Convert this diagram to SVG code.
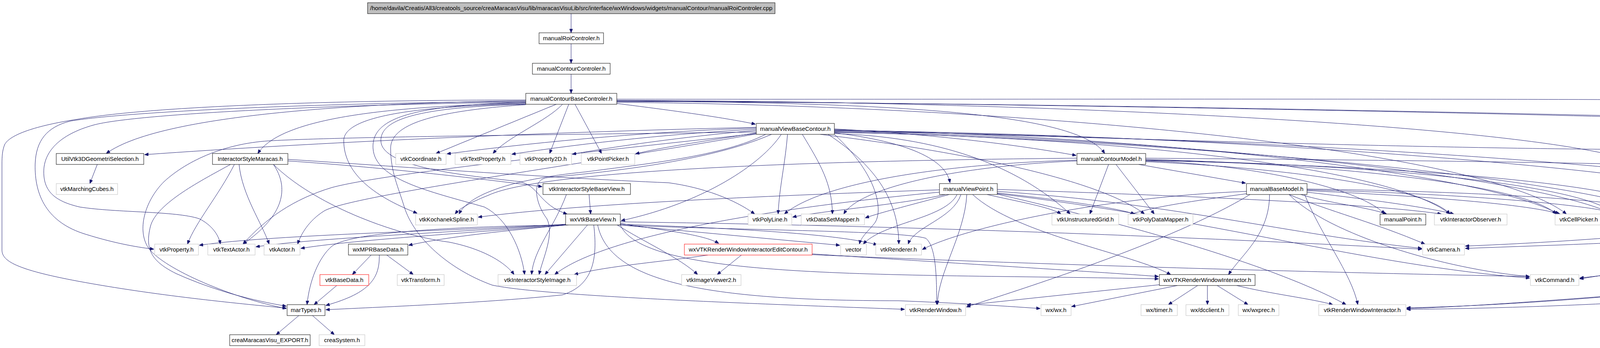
<svg xmlns="http://www.w3.org/2000/svg" width="4877" height="891" viewBox="0 0 4877 891">
<defs>
<style>
#edges path{fill:none;stroke:#191970;stroke-width:1;marker-end:url(#ah)}
.nd rect{fill:#ffffff;stroke:#000000;stroke-width:1}
.gy rect{stroke:#bfbfbf}
.rd rect{stroke:#ff0000}
.top rect{fill:#bfbfbf}
text{font-family:"Liberation Sans",Arial,sans-serif;font-size:15px;text-anchor:middle;fill:#000000}
</style>
<marker id="ah" viewBox="0 0 10 8" refX="10" refY="4" markerWidth="10" markerHeight="8" markerUnits="userSpaceOnUse" orient="auto"><path d="M0,0L10,4L0,8z" fill="#191970" stroke="#191970"/></marker>
</defs>
<rect width="4877" height="891" fill="#ffffff"/>
<g id="edges">
<path d="M1462,35 V84"/>
<path d="M1462,112 V162"/>
<path d="M1462,190 V239"/>
<path d="M1424,267 L1116,393"/>
<path d="M1440,267 C1400,310 1300,350 1262,393"/>
<path d="M1456,267 L1407,393"/>
<path d="M1472,267 L1540,393"/>
<path d="M1579,265 C1700,280 1850,300 1934,318"/>
<path d="M1346,258 C1000,262 420,285 272,393"/>
<path d="M1346,264 C1000,272 720,300 660,393"/>
<path d="M1579,259 C2300,262 2760,290 2828,393"/>
<path d="M1346,256 C900,256 400,270 200,305 C90,322 25,345 12,370 C6,385 5,400 5,420 L5,640 C5,668 40,690 200,720 C400,757 600,776 733,789"/>
<path d="M1346,260 C900,262 350,282 180,310 C120,325 92,360 90,420 C88,500 120,570 220,600 C300,625 360,634 394,638"/>
<path d="M1346,262 C900,266 350,290 240,320 C150,345 112,390 112,440 C112,490 140,515 204,530 C300,545 450,540 510,560 C540,575 560,600 564,625"/>
<path d="M1346,266 C1050,272 880,300 880,360 C880,440 950,500 1068,546"/>
<path d="M1346,267 C1050,275 975,310 975,360 C975,430 1200,450 1330,465 C1380,475 1380,525 1452,548"/>
<path d="M1346,262 C1060,270 950,300 955,380 C960,460 1100,490 1240,530 C1300,560 1335,640 1343,703"/>
<path d="M1346,268 C1100,285 1000,320 1000,380 C1000,440 1020,480 1035,530 C1060,610 1150,690 1260,730 C1400,760 2000,780 2316,792"/>
<path d="M1579,262 C2600,270 3800,380 4010,548"/>
<path d="M1579,257 C2800,260 4000,330 4200,420 C4280,460 4300,510 4300,548"/>
<path d="M1579,254 C2600,255 4600,250 4700,262 C4840,275 4869,320 4869,400 L4869,693 C4869,715 4840,722 4788,722 C4700,722 4660,725 4600,735 C4400,770 3900,790 3601,792"/>
<path d="M1579,260 C2600,262 3900,290 4500,305 C4650,310 4720,262 4780,265 C4810,270 4819,300 4819,330 L4819,600 C4819,630 4790,645 4740,645 C4650,645 4600,648 4557,648 C4400,655 4200,690 4044,714"/>
<path d="M1579,258 C2700,265 4500,300 4650,320 C4720,330 4738,400 4738,540 C4738,565 4700,572 4610,572 C4450,570 4250,610 3751,630"/>
<path d="M1936,326 C1400,338 800,365 370,396"/>
<path d="M1936,328 C1700,335 1400,360 1144,394"/>
<path d="M1936,331 C1750,340 1500,365 1310,395"/>
<path d="M1936,334 C1800,345 1600,370 1465,395"/>
<path d="M1936,340 C1850,355 1700,375 1627,394"/>
<path d="M1936,338 C1400,345 900,350 700,360 C580,365 480,410 420,465 C370,515 350,590 380,635 C420,690 600,765 733,790"/>
<path d="M1936,342 C1600,380 1000,440 850,480 C750,510 680,560 622,625"/>
<path d="M1936,343 C1500,420 900,500 830,540 C790,565 770,600 762,625"/>
<path d="M1960,344 C1850,400 1650,420 1500,440 C1300,460 1200,500 1175,548"/>
<path d="M2000,344 C1950,420 1800,520 1590,565"/>
<path d="M1975,344 C1800,420 1500,445 1400,455 C1360,460 1370,520 1400,560 C1420,600 1390,660 1380,703"/>
<path d="M2016,344 C2010,420 1995,480 1992,548"/>
<path d="M2054,344 C2100,420 2130,470 2131,548"/>
<path d="M2136,340 C2300,360 2420,400 2432,468"/>
<path d="M2136,330 C2400,345 2600,370 2755,398"/>
<path d="M2136,342 C2400,350 2600,420 2740,548"/>
<path d="M2100,344 C2400,380 2800,450 2930,548"/>
<path d="M2136,344 C2250,450 2260,540 2240,570 C2225,590 2205,605 2200,625"/>
<path d="M2120,344 C2250,430 2300,520 2301,625"/>
<path d="M2136,333 C2900,345 3800,440 3990,548"/>
<path d="M2136,336 C2900,350 3900,440 4130,548"/>
<path d="M2136,338 C2900,355 4000,445 4262,548"/>
<path d="M2136,339 C2800,350 3550,420 3712,548"/>
<path d="M2136,334 C3100,345 4000,420 4300,470 C4400,490 4406,530 4406,580 C4400,610 4300,615 4000,627 L3751,636"/>
<path d="M2136,336 C3200,350 4200,420 4450,470 C4510,485 4517,520 4517,560 C4517,620 4436,660 4300,680 C4200,695 4100,705 4044,712"/>
<path d="M2136,332 C3000,360 4300,400 4550,375 C4650,365 4718,380 4718,440 L4718,650 C4718,690 4680,710 4600,717 C4300,745 3800,785 3601,790"/>
<path d="M2915,421 L3189,469"/>
<path d="M2838,421 L2790,548"/>
<path d="M2857,421 L2955,548"/>
<path d="M2757,410 C2400,420 2100,470 2008,548"/>
<path d="M2757,412 C2450,425 2200,480 2160,548"/>
<path d="M2757,405 C2200,410 1400,430 1250,500 C1200,520 1175,535 1165,548"/>
<path d="M2933,412 C3200,420 3480,480 3545,548"/>
<path d="M2933,414 C3300,430 3650,480 3712,548"/>
<path d="M2933,408 C3400,420 3900,470 3984,548"/>
<path d="M2933,410 C3500,420 4050,470 4135,548"/>
<path d="M2933,411 C3600,425 4200,470 4275,548"/>
<path d="M2933,405 C3600,410 4500,420 4620,440 C4660,450 4668,500 4668,560 L4668,620 C4668,680 4600,700 4500,717 C4200,760 3800,785 3601,788"/>
<path d="M2527,498 C2600,515 2690,530 2716,548"/>
<path d="M2553,494 C2700,510 2850,530 2905,548"/>
<path d="M2420,498 C2300,525 2100,540 2029,556"/>
<path d="M2430,498 C2350,520 2250,545 2215,558"/>
<path d="M2450,498 C2420,560 2260,570 2210,625"/>
<path d="M2460,498 C2440,560 2340,580 2325,625"/>
<path d="M2475,498 C2470,600 2400,700 2400,780"/>
<path d="M2490,498 C2600,600 2900,650 2997,703"/>
<path d="M2405,492 C2000,530 1550,600 1420,703"/>
<path d="M2553,490 C3000,520 3300,600 3640,636"/>
<path d="M2553,496 C3100,560 3500,680 3916,712"/>
<path d="M2553,497 C3000,600 3300,700 3446,780"/>
<path d="M2405,486 C2000,500 1500,520 1224,556"/>
<path d="M2553,485 C3000,500 3500,520 3690,548"/>
<path d="M3191,496 C3050,515 2950,530 2890,550"/>
<path d="M3330,498 C3400,520 3500,530 3550,548"/>
<path d="M3346,492 C3500,510 3650,530 3722,548"/>
<path d="M3346,488 C3600,500 3900,520 3994,548"/>
<path d="M3346,486 C3700,495 4050,520 4145,548"/>
<path d="M3346,484 C3800,490 4200,515 4285,548"/>
<path d="M3300,498 C3400,540 3520,570 3648,625"/>
<path d="M3300,498 C3400,600 3700,690 3916,708"/>
<path d="M3340,498 C3380,600 3460,700 3476,780"/>
<path d="M3250,498 C3250,600 3180,650 3145,703"/>
<path d="M3200,498 C3000,620 2600,745 2474,786"/>
<path d="M3191,490 C2800,505 2450,590 2361,639"/>
<path d="M1448,574 C1200,590 700,600 510,628"/>
<path d="M1448,575 C1150,595 800,610 655,632"/>
<path d="M1448,576 C1150,600 900,615 770,636"/>
<path d="M1452,576 C1300,590 1150,605 1046,628"/>
<path d="M1504,576 L1395,703"/>
<path d="M1455,576 C1150,580 900,595 850,630 C815,660 792,720 786,780"/>
<path d="M1520,576 C1530,660 1520,730 1440,755 C1250,775 1000,785 834,793"/>
<path d="M1588,572 C1700,590 1800,600 1840,623"/>
<path d="M1580,576 C1650,620 1740,660 1786,703"/>
<path d="M1588,576 L2150,628"/>
<path d="M1588,574 C1900,585 2150,600 2246,627"/>
<path d="M1588,576 C1650,720 2300,700 2966,714"/>
<path d="M1580,576 C1900,590 2300,590 2370,610 C2395,630 2398,700 2398,780"/>
<path d="M1530,576 C1560,720 1800,770 2300,770 C2450,776 2550,782 2663,790"/>
<path d="M1588,568 C2500,580 3300,620 3640,638"/>
<path d="M1508,498 L1512,548"/>
<path d="M1450,498 C1420,580 1365,640 1361,703"/>
<path d="M737,412 C1000,430 1250,460 1388,478"/>
<path d="M600,421 C560,500 500,570 480,625"/>
<path d="M612,421 C620,500 670,570 689,625"/>
<path d="M590,421 C520,460 400,520 385,580 C370,640 390,670 450,700 C550,745 650,770 733,784"/>
<path d="M700,421 C800,520 1000,600 1150,620 C1250,640 1300,680 1316,703"/>
<path d="M737,408 C1000,425 1400,455 1712,468 C1800,480 1880,510 1932,548"/>
<path d="M700,421 C740,480 730,550 622,625"/>
<path d="M950,653 L902,703"/>
<path d="M990,653 L1058,703"/>
<path d="M971,653 C972,710 950,750 834,782"/>
<path d="M862,731 L804,780"/>
<path d="M765,808 L707,857"/>
<path d="M800,808 L856,857"/>
<path d="M249,421 L230,470"/>
<path d="M1898,653 L1836,703"/>
<path d="M1812,653 C1700,670 1560,680 1470,703"/>
<path d="M2079,650 C2300,665 2800,695 2966,708"/>
<path d="M2079,652 C2700,680 3500,700 3916,708"/>
<path d="M2968,729 L2475,781"/>
<path d="M3014,731 L2743,785"/>
<path d="M3066,731 L2991,780"/>
<path d="M3091,731 L3091,780"/>
<path d="M3116,731 L3195,780"/>
<path d="M3166,731 C3250,752 3360,765 3412,780"/>
</g>
<g id="n0" class="nd top"><rect x="941" y="7" width="1043" height="28"/><text x="1462.5" y="26">/home/davila/Creatis/All3/creatools_source/creaMaracasVisu/lib/maracasVisuLib/src/interface/wxWindows/widgets/manualContour/manualRoiControler.cpp</text></g>
<g id="n1" class="nd"><rect x="1380" y="84" width="165" height="28"/><text x="1462.5" y="103">manualRoiControler.h</text></g>
<g id="n2" class="nd"><rect x="1363" y="162" width="199" height="28"/><text x="1462.5" y="181">manualContourControler.h</text></g>
<g id="n3" class="nd"><rect x="1346" y="239" width="233" height="28"/><text x="1462.5" y="258">manualContourBaseControler.h</text></g>
<g id="n4" class="nd"><rect x="1936" y="316" width="200" height="28"/><text x="2036" y="335">manualViewBaseContour.h</text></g>
<g id="n5" class="nd"><rect x="144" y="393" width="224" height="28"/><text x="256" y="412">UtilVtk3DGeometriSelection.h</text></g>
<g id="n6" class="nd"><rect x="544" y="393" width="193" height="28"/><text x="640.5" y="412">InteractorStyleMaracas.h</text></g>
<g id="n7" class="nd gy"><rect x="1013" y="393" width="129" height="28"/><text x="1077.5" y="412">vtkCoordinate.h</text></g>
<g id="n8" class="nd gy"><rect x="1165" y="393" width="143" height="28"/><text x="1236.5" y="412">vtkTextProperty.h</text></g>
<g id="n9" class="nd gy"><rect x="1331" y="393" width="132" height="28"/><text x="1397" y="412">vtkProperty2D.h</text></g>
<g id="n10" class="nd gy"><rect x="1488" y="393" width="137" height="28"/><text x="1556.5" y="412">vtkPointPicker.h</text></g>
<g id="n11" class="nd"><rect x="2757" y="393" width="176" height="28"/><text x="2845" y="412">manualContourModel.h</text></g>
<g id="n12" class="nd gy"><rect x="144" y="470" width="157" height="28"/><text x="222.5" y="489">vtkMarchingCubes.h</text></g>
<g id="n13" class="nd"><rect x="1390" y="470" width="224" height="28"/><text x="1502" y="489">vtkInteractorStyleBaseView.h</text></g>
<g id="n14" class="nd"><rect x="2405" y="470" width="148" height="28"/><text x="2479" y="489">manualViewPoint.h</text></g>
<g id="n15" class="nd"><rect x="3191" y="470" width="155" height="28"/><text x="3268.5" y="489">manualBaseModel.h</text></g>
<g id="n16" class="nd gy"><rect x="1064" y="548" width="158" height="28"/><text x="1143" y="567">vtkKochanekSpline.h</text></g>
<g id="n17" class="nd"><rect x="1448" y="548" width="140" height="28"/><text x="1518" y="567">wxVtkBaseView.h</text></g>
<g id="n18" class="nd gy"><rect x="1915" y="548" width="112" height="28"/><text x="1971" y="567">vtkPolyLine.h</text></g>
<g id="n19" class="nd gy"><rect x="2051" y="548" width="162" height="28"/><text x="2132" y="567">vtkDataSetMapper.h</text></g>
<g id="n20" class="nd gy"><rect x="2693" y="548" width="171" height="28"/><text x="2778.5" y="567">vtkUnstructuredGrid.h</text></g>
<g id="n21" class="nd gy"><rect x="2888" y="548" width="166" height="28"/><text x="2971" y="567">vtkPolyDataMapper.h</text></g>
<g id="n22" class="nd"><rect x="3533" y="548" width="117" height="28"/><text x="3591.5" y="567">manualPoint.h</text></g>
<g id="n23" class="nd gy"><rect x="3672" y="548" width="186" height="28"/><text x="3765" y="567">vtkInteractorObserver.h</text></g>
<g id="n24" class="nd gy"><rect x="3981" y="548" width="121" height="28"/><text x="4041.5" y="567">vtkCellPicker.h</text></g>
<g id="n25" class="nd gy"><rect x="4125" y="548" width="119" height="28"/><text x="4184.5" y="567">vtkPolyData.h</text></g>
<g id="n26" class="nd gy"><rect x="4266" y="548" width="114" height="28"/><text x="4323" y="567">vtkCellArray.h</text></g>
<g id="n27" class="nd gy"><rect x="396" y="625" width="112" height="28"/><text x="452" y="644">vtkProperty.h</text></g>
<g id="n28" class="nd gy"><rect x="532" y="625" width="121" height="28"/><text x="592.5" y="644">vtkTextActor.h</text></g>
<g id="n29" class="nd gy"><rect x="676" y="625" width="92" height="28"/><text x="722" y="644">vtkActor.h</text></g>
<g id="n30" class="nd"><rect x="892" y="625" width="152" height="28"/><text x="968" y="644">wxMPRBaseData.h</text></g>
<g id="n31" class="nd rd"><rect x="1752" y="625" width="327" height="28"/><text x="1915.5" y="644">wxVTKRenderWindowInteractorEditContour.h</text></g>
<g id="n32" class="nd gy"><rect x="2152" y="625" width="66" height="28"/><text x="2185" y="644">vector</text></g>
<g id="n33" class="nd gy"><rect x="2242" y="625" width="117" height="28"/><text x="2300.5" y="644">vtkRenderer.h</text></g>
<g id="n34" class="nd gy"><rect x="3642" y="625" width="107" height="28"/><text x="3695.5" y="644">vtkCamera.h</text></g>
<g id="n35" class="nd rd"><rect x="819" y="703" width="125" height="28"/><text x="881.5" y="722">vtkBaseData.h</text></g>
<g id="n36" class="nd gy"><rect x="1017" y="703" width="120" height="28"/><text x="1077" y="722">vtkTransform.h</text></g>
<g id="n37" class="nd gy"><rect x="1275" y="703" width="201" height="28"/><text x="1375.5" y="722">vtkInteractorStyleImage.h</text></g>
<g id="n38" class="nd gy"><rect x="1745" y="703" width="152" height="28"/><text x="1821" y="722">vtkImageViewer2.h</text></g>
<g id="n39" class="nd"><rect x="2968" y="703" width="245" height="28"/><text x="3090.5" y="722">wxVTKRenderWindowInteractor.h</text></g>
<g id="n40" class="nd gy"><rect x="3918" y="703" width="124" height="28"/><text x="3980" y="722">vtkCommand.h</text></g>
<g id="n41" class="nd"><rect x="735" y="780" width="97" height="28"/><text x="783.5" y="799">marTypes.h</text></g>
<g id="n42" class="nd gy"><rect x="2318" y="780" width="154" height="28"/><text x="2395" y="799">vtkRenderWindow.h</text></g>
<g id="n43" class="nd gy"><rect x="2665" y="780" width="77" height="28"/><text x="2703.5" y="799">wx/wx.h</text></g>
<g id="n44" class="nd gy"><rect x="2921" y="780" width="93" height="28"/><text x="2967.5" y="799">wx/timer.h</text></g>
<g id="n45" class="nd gy"><rect x="3036" y="780" width="110" height="28"/><text x="3091" y="799">wx/dcclient.h</text></g>
<g id="n46" class="nd gy"><rect x="3170" y="780" width="104" height="28"/><text x="3222" y="799">wx/wxprec.h</text></g>
<g id="n47" class="nd gy"><rect x="3376" y="780" width="223" height="28"/><text x="3487.5" y="799">vtkRenderWindowInteractor.h</text></g>
<g id="n48" class="nd"><rect x="588" y="857" width="206" height="28"/><text x="691" y="876">creaMaracasVisu_EXPORT.h</text></g>
<g id="n49" class="nd gy"><rect x="817" y="857" width="117" height="28"/><text x="875.5" y="876">creaSystem.h</text></g>
</svg>
